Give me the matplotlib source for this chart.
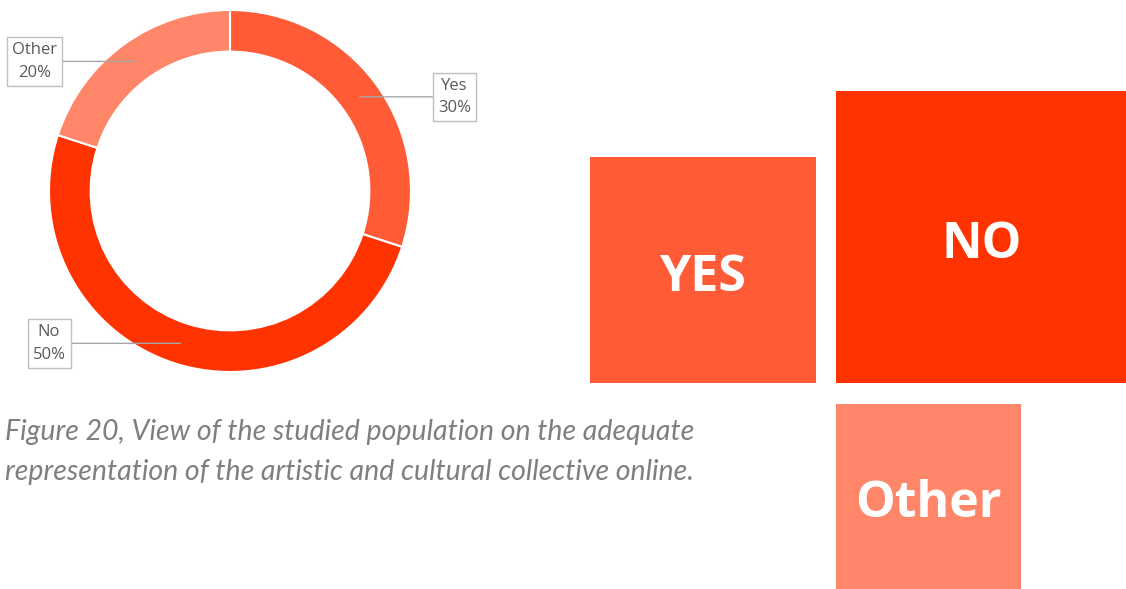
import numpy as np
import matplotlib
matplotlib.use('Agg')
import matplotlib.pyplot as plt
from matplotlib.patches import Rectangle

# survey answers (percent)
labels = ['Yes', 'No', 'Other']
values = [30, 50, 20]
tile_labels = ['YES', 'NO', 'Other']
colors = ['#FF5B36', '#FF3300', '#FF8668']

caption = ['Figure 20, View of the studied population on the adequate',
           'representation of the artistic and cultural collective online.']

W, H = 1126, 589
fig = plt.figure(figsize=(W / 100, H / 100), dpi=100)

# pixel-space canvas for the tiles and the caption
bg = fig.add_axes([0, 0, 1, 1])
bg.set_xlim(0, W)
bg.set_ylim(H, 0)
bg.axis('off')

# donut
ax = fig.add_axes([49 / W, 217 / H, 362 / W, 362 / H])
ring = 0.23
wedges, _ = ax.pie(values, colors=colors, startangle=90, counterclock=False,
                   radius=1, wedgeprops=dict(width=ring, edgecolor='white', linewidth=1.5))
ax.set_xlim(-1, 1)
ax.set_ylim(-1, 1)
ax.set_aspect('equal')

label_x = {'Yes': 1.24, 'No': -1.0, 'Other': -1.08}
for w, lab, val in zip(wedges, labels, values):
    ang = np.deg2rad((w.theta1 + w.theta2) / 2)
    r = 1 - ring / 2
    xy = (r * np.cos(ang), r * np.sin(ang))
    ax.annotate('%s\n%d%%' % (lab, val), xy=xy, xytext=(label_x[lab], xy[1]),
                ha='center', va='center', fontsize=12, color='#595959',
                family='Open Sans', linespacing=1.55,
                bbox=dict(boxstyle='square,pad=0.3', fc='white', ec='#BFBFBF', lw=1),
                arrowprops=dict(arrowstyle='-', color='#A6A6A6', lw=1,
                                shrinkA=0, shrinkB=0),
                annotation_clip=False)

# area-proportional tiles
k = 292 / np.sqrt(max(values))
side = dict(zip(labels, [k * np.sqrt(v) for v in values]))
left, base, gap = 836, 383, 20
tiles = {
    'Yes': (left - gap - side['Yes'], base - side['Yes']),
    'No': (left, base - side['No']),
    'Other': (left, base + gap + 1),
}
for lab, txt, c in zip(labels, tile_labels, colors):
    x0, y0 = tiles[lab]
    s = side[lab]
    bg.add_patch(Rectangle((x0, y0), s, s, fc=c, ec='none'))
    bg.text(x0 + s / 2, y0 + s / 2 + 8, txt, ha='center', va='center',
            fontsize=36, fontweight='bold', color='white', family='Open Sans')

for i, line in enumerate(caption):
    bg.text(5, 432 + 40 * i, line, ha='left', va='center', fontsize=20.5,
            style='italic', color='#7F7F7F', family='Lato')

fig.savefig('out.png', dpi=100)
